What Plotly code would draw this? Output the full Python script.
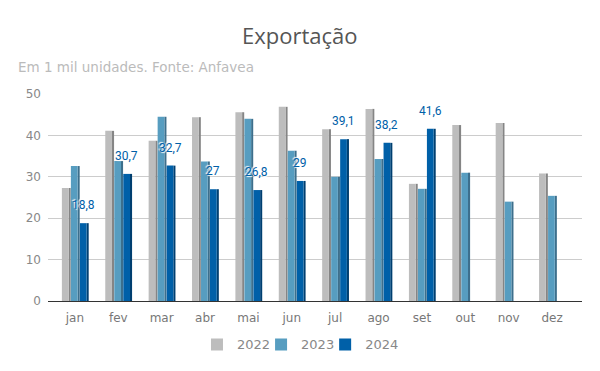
import plotly.graph_objects as go

months = ["jan", "fev", "mar", "abr", "mai", "jun", "jul", "ago", "set", "out", "nov", "dez"]
v2022 = [27.3, 41.1, 38.7, 44.4, 45.6, 46.9, 41.5, 46.4, 28.3, 42.5, 43.0, 30.8]
v2023 = [32.6, 33.8, 44.5, 33.7, 44.0, 36.3, 30.0, 34.3, 27.1, 31.0, 24.0, 25.4]
v2024 = [18.8, 30.7, 32.7, 27.0, 26.8, 29.0, 39.1, 38.2, 41.6, None, None, None]
series_names = ["2022", "2023", "2024"]

front_colors = ["#bdbdbd", "#579dc0", "#0060a8"]
side_colors = ["#858585", "#3d6f8c", "#003f70"]
offsets = [-0.30, -0.0925, 0.115]
legend_ids = ["legend", "legend2", "legend3"]
legend_x = [0.279, 0.399, 0.519]
fw = 0.155
sw = 0.048

fig = go.Figure()
for name, vals, fc, sc, off, lid in zip(series_names, [v2022, v2023, v2024], front_colors,
                                        side_colors, offsets, legend_ids):
    fig.add_trace(go.Bar(x=months, y=vals, width=sw, offset=off + fw, marker_color=sc,
                         marker_line_width=0, showlegend=False, hoverinfo="skip"))
    fig.add_trace(go.Bar(x=months, y=vals, name=name, width=fw, offset=off, marker_color=fc,
                         marker_line_width=0, legend=lid))

# data labels for 2024
for m, v in zip(months, v2024):
    if v is None:
        continue
    fig.add_annotation(x=m, y=v, text=f"{v:g}".replace(".", ","), showarrow=False,
                       xanchor="center", yanchor="middle", yshift=18, xshift=8.4,
                       font=dict(family="Roboto", size=12, color="#0060a8",
                                 shadow="1px 1px 1px white, -1px -1px 1px white"))

legend_style = dict(orientation="h", xanchor="left", y=-0.21, yanchor="middle",
                    font=dict(family="DejaVu Sans", size=13, color="#888888"),
                    itemwidth=30, bgcolor="rgba(0,0,0,0)", borderwidth=0)

fig.add_annotation(text="Em 1 mil unidades. Fonte: Anfavea", xref="paper", yref="paper",
                   x=-0.059, y=1.13, xanchor="left", yanchor="middle", showarrow=False,
                   font=dict(family="DejaVu Sans", size=13.5, color="#bbbbbb"))

fig.update_layout(
    width=592, height=363,
    barmode="overlay",
    plot_bgcolor="white", paper_bgcolor="white",
    margin=dict(l=40, r=18, t=86, b=70, autoexpand=False),
    separators=",.",
    title=dict(text="Exportação", x=0.493, xanchor="center", y=0.923, yanchor="middle",
               font=dict(family="Open Sans", size=22, color="#555555")),
    legend=dict(x=legend_x[0], **legend_style),
    legend2=dict(x=legend_x[1], **legend_style),
    legend3=dict(x=legend_x[2], **legend_style),
    xaxis=dict(showline=True, linecolor="#333333", linewidth=1, ticks="", ticklabelstandoff=6,
               tickfont=dict(family="DejaVu Sans", size=12, color="#777777"), range=[-0.62, 11.69]),
    yaxis=dict(range=[0, 50], dtick=10, gridcolor="#cccccc", zeroline=False, ticklabelstandoff=6,
               tickfont=dict(family="DejaVu Sans", size=12, color="#888888")),
)

fig.write_html("out.html")
